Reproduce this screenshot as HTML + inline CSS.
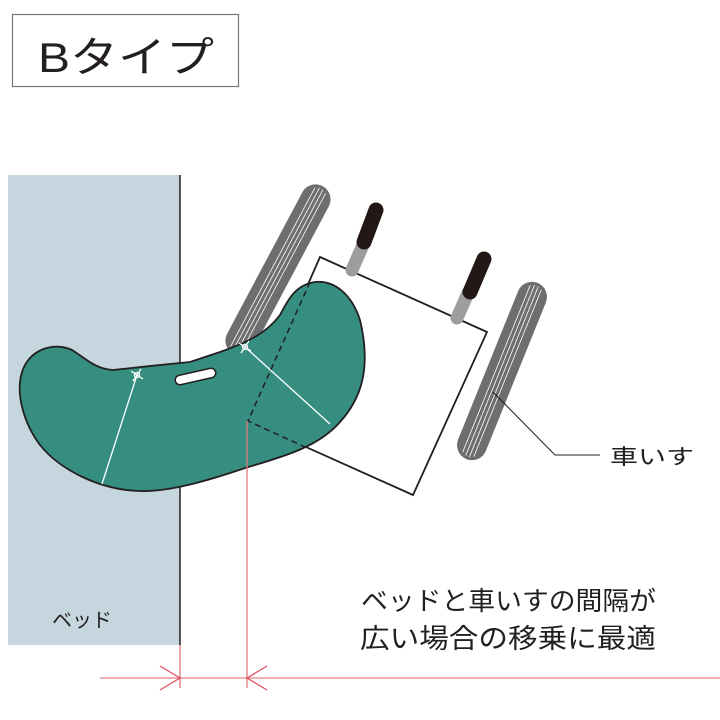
<!DOCTYPE html>
<html><head><meta charset="utf-8"><style>
html,body{margin:0;padding:0;background:#fff;}
svg{display:block;}
text{font-family:"Liberation Sans","Noto Sans CJK JP",sans-serif;fill:#231f20;}
</style></head><body>
<svg width="720" height="720" viewBox="0 0 720 720" xmlns="http://www.w3.org/2000/svg">
<rect x="12.5" y="14.5" width="226" height="72" fill="#fff" stroke="#777" stroke-width="1.2"/>
<text x="38" y="72" font-size="42" textLength="176" lengthAdjust="spacingAndGlyphs">Bタイプ</text>

<rect x="8" y="175" width="172" height="470" fill="#c5d6de"/>
<line x1="180" y1="175" x2="180" y2="645" stroke="#231f20" stroke-width="1.5"/>

<!-- left wheel -->
<g transform="translate(278,270) rotate(28)">
<rect x="-15" y="-95" width="30" height="190" rx="15" fill="#6d6e70"/>
<g stroke="#fff" stroke-width="0.8"><line x1="-6" y1="-90" x2="-6" y2="90"/><line x1="-2" y1="-92" x2="-2" y2="92"/><line x1="2" y1="-92" x2="2" y2="92"/><line x1="6" y1="-90" x2="6" y2="90"/></g>
</g>
<!-- right wheel -->
<g transform="translate(502,371) rotate(22)">
<rect x="-15" y="-95" width="30" height="190" rx="15" fill="#6d6e70"/>
<g stroke="#fff" stroke-width="0.8"><line x1="-6" y1="-90" x2="-6" y2="90"/><line x1="-2" y1="-92" x2="-2" y2="92"/><line x1="2" y1="-92" x2="2" y2="92"/><line x1="6" y1="-90" x2="6" y2="90"/></g>
</g>
<!-- seat -->
<polygon points="320,257 487,332 413,495 248,421" fill="#fff" stroke="#231f20" stroke-width="1.8"/>
<!-- handles -->
<line x1="363" y1="245" x2="352" y2="270" stroke="#9d9d9d" stroke-width="13" stroke-linecap="round"/>
<line x1="376" y1="210" x2="364" y2="242" stroke="#231815" stroke-width="15" stroke-linecap="round"/>
<line x1="468" y1="293" x2="457" y2="318" stroke="#9d9d9d" stroke-width="13" stroke-linecap="round"/>
<line x1="484" y1="259" x2="470" y2="292" stroke="#231815" stroke-width="15" stroke-linecap="round"/>

<!-- pad -->
<path d="M190,362 C170,364 130,368 113,370 C95,369 85,358 72,350 C55,342 30,348 22,372 C15,395 25,425 40,445 C60,470 100,490 140,491 C170,492 210,480 245,468 C290,455 320,445 340,422 C360,400 372,370 360,320 C352,295 335,280 315,282 C295,285 288,300 280,315 C265,335 245,343 220,352 Z" fill="#358e80" stroke="#231f20" stroke-width="1.8"/>
<line x1="180" y1="380" x2="211" y2="373" stroke="#231f20" stroke-width="11" stroke-linecap="round"/>
<line x1="180" y1="380" x2="211" y2="373" stroke="#fff" stroke-width="8" stroke-linecap="round"/>
<g stroke="#fff" stroke-width="1.3" fill="none">
<line x1="137" y1="375" x2="102" y2="484"/>
<line x1="245" y1="347" x2="330" y2="424"/>
<circle cx="137" cy="375" r="2.5"/><line x1="131" y1="371" x2="143" y2="379"/><line x1="133" y1="381" x2="141" y2="369"/>
<circle cx="245" cy="347" r="2.5"/><line x1="239" y1="343" x2="251" y2="351"/><line x1="241" y1="353" x2="249" y2="341"/>
</g>
<polyline points="310,282 248,421 305,447" fill="none" stroke="#231f20" stroke-width="1.5" stroke-dasharray="6,4"/>

<!-- dimension lines -->
<line x1="180" y1="645" x2="180" y2="688" stroke="#e0707a" stroke-width="1.3"/>
<line x1="247" y1="421" x2="247" y2="688" stroke="#e07a80" stroke-width="1.3"/>
<line x1="100" y1="678" x2="720" y2="678" stroke="#e8828a" stroke-width="1.3"/>
<polyline points="160,666 180,678 160,690" fill="none" stroke="#e05060" stroke-width="1.3"/>
<polyline points="267,666 247,678 267,690" fill="none" stroke="#e05060" stroke-width="1.3"/>

<!-- leader -->
<polyline points="493,392 555,455 600,455" fill="none" stroke="#231f20" stroke-width="1"/>
<text x="610" y="464" font-size="21" textLength="84" lengthAdjust="spacingAndGlyphs">車いす</text>

<text x="52" y="627" font-size="20" textLength="60" lengthAdjust="spacingAndGlyphs">ベッド</text>
<text x="361" y="610" font-size="26" textLength="295" lengthAdjust="spacingAndGlyphs">ベッドと車いすの間隔が</text>
<text x="360" y="648" font-size="27" textLength="296" lengthAdjust="spacingAndGlyphs">広い場合の移乗に最適</text>
</svg>
</body></html>
